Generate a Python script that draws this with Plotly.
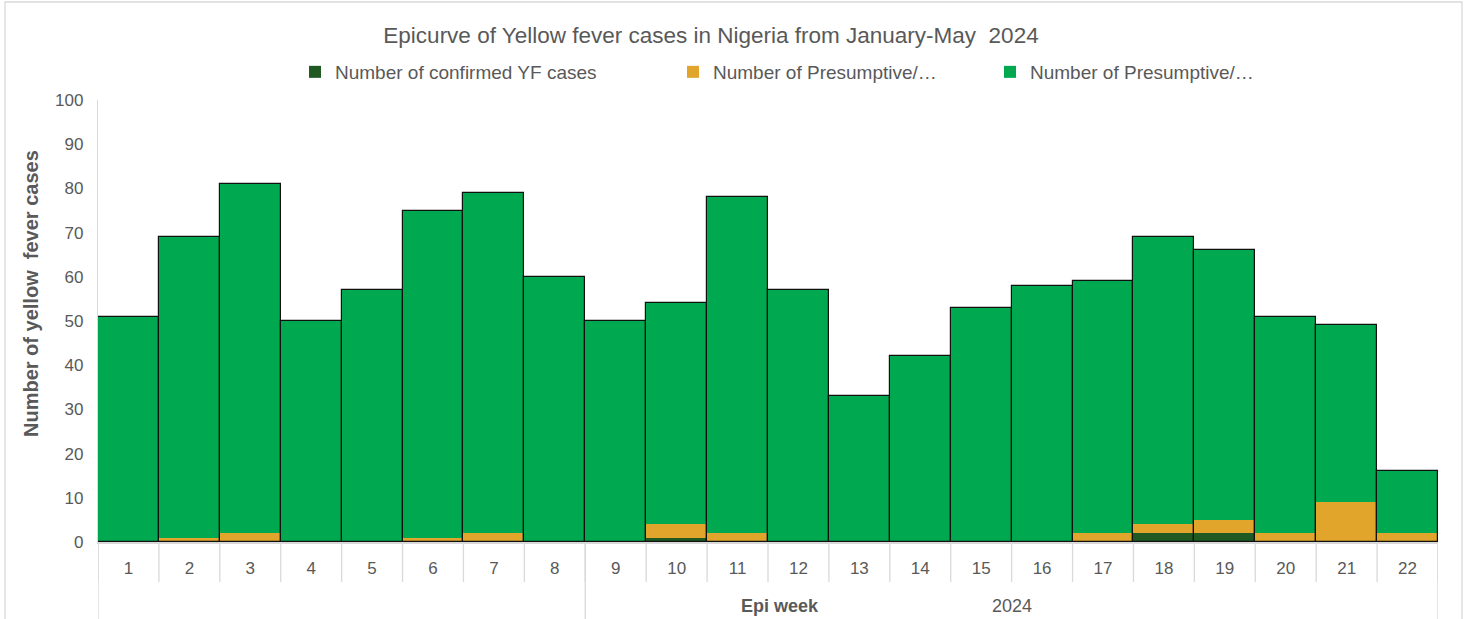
import plotly.graph_objects as go

weeks = [str(i) for i in range(1, 23)]
totals = [51, 69, 81, 50, 57, 75, 79, 60, 50, 54, 78, 57, 33, 42, 53, 58, 59, 69, 66, 51, 49, 16]
confirmed = [0, 0, 0, 0, 0, 0, 0, 0, 0, 1, 0, 0, 0, 0, 0, 0, 0, 2, 2, 0, 0, 0]
presumptive_pos = [0, 1, 2, 0, 0, 1, 2, 0, 0, 3, 2, 0, 0, 0, 0, 0, 2, 2, 3, 2, 9, 2]
presumptive_other = [t - c - p for t, c, p in zip(totals, confirmed, presumptive_pos)]
group_labels = ["", "2024"]

names = ["Number of confirmed YF cases", "Number of Presumptive/…", "Number of Presumptive/…"]
colors = ["#1E5A22", "#E0A52A", "#00A84F"]

FONT = "Liberation Sans, Arial, sans-serif"
GREY = "#595959"
LINE = "#D9D9D9"

W, H = 1468, 619
L, R, T, B = 98, 1438, 100, 542
PW, PH = R - L, B - T


def px(X):
    return (X - L) / PW


def py(Y):
    return (B - Y) / PH


base_orange = confirmed
base_green = [c + p for c, p in zip(confirmed, presumptive_pos)]

fig = go.Figure()
fig.add_trace(go.Bar(x=weeks, y=confirmed, base=[0] * 22, name=names[0], legend="legend",
                     marker=dict(color=colors[0], line=dict(width=0))))
fig.add_trace(go.Bar(x=weeks, y=presumptive_pos, base=base_orange, name=names[1], legend="legend2",
                     marker=dict(color=colors[1], line=dict(width=0))))
fig.add_trace(go.Bar(x=weeks, y=presumptive_other, base=base_green, name=names[2], legend="legend3",
                     marker=dict(color=colors[2], line=dict(width=0))))
# outline of the whole stacked column
fig.add_trace(go.Bar(x=weeks, y=totals, base=[0] * 22, showlegend=False, hoverinfo="skip",
                     marker=dict(color="rgba(0,0,0,0)", line=dict(color="#111111", width=1.2))))

shapes = []
# week separators below axis
for i in range(len(weeks) + 1):
    shapes.append(dict(type="line", xref="x", yref="paper", x0=i - 0.5, x1=i - 0.5,
                       y0=0, y1=py(582), line=dict(color=LINE, width=1.3)))
# group separators
for xv in [-0.5, 7.5, 21.5]:
    shapes.append(dict(type="line", xref="x", yref="paper", x0=xv, x1=xv,
                       y0=0, y1=py(630), line=dict(color=LINE, width=1.3)))
# outer frame
shapes.append(dict(type="rect", xref="paper", yref="paper",
                   x0=px(5), x1=px(1462), y0=py(630), y1=py(2),
                   line=dict(color=LINE, width=1.3), fillcolor="rgba(0,0,0,0)", layer="below"))

annotations = [
    dict(text="<b>Epi week</b>", xref="paper", yref="paper", x=px(780), y=py(606),
         showarrow=False, font=dict(family=FONT, size=18, color=GREY), xanchor="center", yanchor="middle"),
    dict(text=group_labels[1], xref="x", yref="paper", x=14.5, y=py(606),
         showarrow=False, font=dict(family=FONT, size=18, color=GREY), xanchor="center", yanchor="middle"),
    dict(text="<b>Number of yellow  fever cases</b>", xref="paper", yref="paper", x=px(31), y=py(294),
         showarrow=False, textangle=-90, font=dict(family=FONT, size=20, color=GREY),
         xanchor="center", yanchor="middle"),
]

leg_common = dict(orientation="h", yanchor="middle", y=py(72), xanchor="left",
                  font=dict(family=FONT, size=19, color=GREY), itemwidth=30,
                  bgcolor="rgba(0,0,0,0)")

fig.update_layout(
    width=W, height=H,
    margin=dict(l=L, r=W - R, t=T, b=H - B),
    paper_bgcolor="white", plot_bgcolor="white",
    barmode="overlay", bargap=0,
    title=dict(text="Epicurve of Yellow fever cases in Nigeria from January-May  2024",
               x=711 / W, xanchor="center", y=1 - 35 / H, yanchor="middle",
               font=dict(family=FONT, size=22.5, color=GREY)),
    legend=dict(leg_common, x=px(333 - 38)),
    legend2=dict(leg_common, x=px(711 - 38)),
    legend3=dict(leg_common, x=px(1028 - 38)),
    xaxis=dict(type="category", range=[-0.5, 21.5], showgrid=False, ticks="",
               tickfont=dict(family=FONT, size=17, color=GREY), showline=True,
               linecolor=LINE, linewidth=2, ticklabelstandoff=10),
    yaxis=dict(range=[0, 100], dtick=10, showgrid=False, zeroline=False, ticks="",
               tickfont=dict(family=FONT, size=17, color=GREY), showline=True,
               linecolor=LINE, linewidth=1.3, ticklabelstandoff=10),
    shapes=shapes,
    annotations=annotations,
)

fig.write_html("out.html", config={"displayModeBar": False},
               post_script="document.body.style.margin='0';document.body.style.padding='0';")
